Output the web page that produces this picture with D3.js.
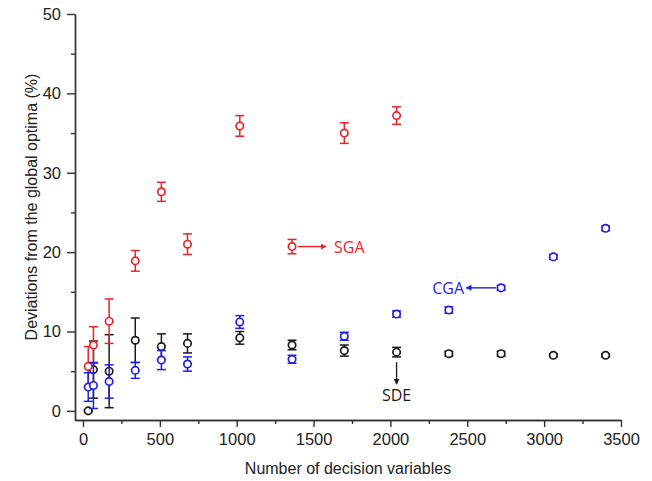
<!DOCTYPE html>
<html lang="en">
<head>
	<meta charset="UTF-8">
	<script src="https://d3js.org/d3.v7.min.js"></script>
	<title>Deviations from the global optima</title>
	<style type="text/css">
		body{ margin: 0; background: #fff; }
		.axis text{ font-family: "Liberation Sans", Arial, sans-serif; font-size: 16.5px; fill: #222; }
		.axis path, .axis line{ stroke: #333; stroke-width: 1.4; }
		.label{ font-family: "Liberation Sans", Arial, sans-serif; font-size: 16px; fill: #222; }
		.note{ font-family: "Open Sans", "Noto Sans", sans-serif; font-size: 16px; }
	</style>
</head>
<body onload="main()">
	<svg width="652" height="481"></svg>
</body>

	<script>
	// decision variables (x) shared by all three series
	var sizes = [34, 68, 170, 340, 510, 680, 1020, 1360, 1700, 2040, 2380, 2720, 3060, 3400];

	var sdeMean = [0.0, 5.2, 5.0, 8.9, 8.1, 8.5, 9.2, 8.3, 7.6, 7.4, 7.2, 7.2, 7.0, 7.0];
	var sdeErr  = [0.1, 3.6, 4.6, 2.8, 1.6, 1.2, 0.8, 0.6, 0.7, 0.6, 0.3, 0.3, 0.2, 0.2];

	var sgaSizes = [34, 68, 170, 340, 510, 680, 1020, 1360, 1700, 2040];
	var sgaMean = [5.6, 8.3, 11.3, 18.9, 27.6, 21.0, 35.9, 20.7, 35.0, 37.2];
	var sgaErr  = [2.5, 2.3, 2.8, 1.3, 1.2, 1.3, 1.3, 0.9, 1.3, 1.1];

	var cgaMean = [3.0, 3.2, 3.7, 5.1, 6.4, 5.9, 11.2, 6.5, 9.4, 12.2, 12.7, 15.5, 19.4, 23.0];
	var cgaErr  = [1.8, 2.9, 2.1, 1.0, 1.2, 0.9, 0.8, 0.5, 0.5, 0.4, 0.4, 0.3, 0.3, 0.3];

	var xTicks = [0, 500, 1000, 1500, 2000, 2500, 3000, 3500];
	var yTicks = [0, 10, 20, 30, 40, 50];

	function main() {
		var svg = d3.select("svg");

		var xScale = d3.scaleLinear().domain([-52, 3500]).range([75, 621]),
		    yScale = d3.scaleLinear().domain([-1.15, 50]).range([420, 14]);

		// minor ticks first, then the labelled ones on top
		svg.append("g")
		   .attr("class", "axis")
		   .attr("transform", "translate(0,420)")
		   .call(d3.axisBottom(xScale).tickValues(d3.range(250, 3500, 500)).tickSize(4).tickFormat("").tickSizeOuter(0));
		svg.append("g")
		   .attr("class", "axis")
		   .attr("transform", "translate(0,420)")
		   .call(d3.axisBottom(xScale).tickValues(xTicks).tickSize(7).tickPadding(6).tickSizeOuter(0).tickFormat(d3.format("d")));

		svg.append("g")
		   .attr("class", "axis")
		   .attr("transform", "translate(75,0)")
		   .call(d3.axisLeft(yScale).tickValues(d3.range(5, 50, 10)).tickSize(4).tickFormat("").tickSizeOuter(0));
		svg.append("g")
		   .attr("class", "axis")
		   .attr("transform", "translate(75,0)")
		   .call(d3.axisLeft(yScale).tickValues(yTicks).tickSize(8).tickPadding(6).tickSizeOuter(0).tickFormat(d3.format("d")));

		svg.append("text")
		   .attr("class", "label")
		   .attr("x", 348)
		   .attr("y", 474)
		   .attr("text-anchor", "middle")
		   .text("Number of decision variables");

		svg.append("text")
		   .attr("class", "label")
		   .attr("transform", "translate(37,207) rotate(-90)")
		   .attr("text-anchor", "middle")
		   .text("Deviations from the global optima (%)");

		function series(xs, mean, err, color) {
			var data = xs.map(function(d, i) { return {n: d, v: mean[i], e: err[i]}; });
			var g = svg.append("g").attr("stroke", color).attr("fill", "none").attr("stroke-width", 1.5);

			var bars = g.selectAll(".eb").data(data).enter().append("g").attr("class", "eb");
			bars.append("line")
			    .attr("x1", function(d) { return xScale(d.n); })
			    .attr("x2", function(d) { return xScale(d.n); })
			    .attr("y1", function(d) { return yScale(d.v + d.e); })
			    .attr("y2", function(d) { return yScale(d.v - d.e); });
			[1, -1].forEach(function(s) {
				bars.append("line")
				    .attr("x1", function(d) { return xScale(d.n) - 4.5; })
				    .attr("x2", function(d) { return xScale(d.n) + 4.5; })
				    .attr("y1", function(d) { return yScale(d.v + s * d.e); })
				    .attr("y2", function(d) { return yScale(d.v + s * d.e); });
			});

			g.selectAll("circle").data(data).enter().append("circle")
			 .attr("cx", function(d) { return xScale(d.n); })
			 .attr("cy", function(d) { return yScale(d.v); })
			 .attr("r", 3.7)
			 .attr("fill", "#fff")
			 .attr("stroke-width", 1.7);
		}

		series(sizes, sdeMean, sdeErr, "#1a1a1a");
		series(sgaSizes, sgaMean, sgaErr, "#e8242b");
		series(sizes, cgaMean, cgaErr, "#1f1fe6");

		// arrow heads
		var defs = svg.append("defs");
		[["r", "#e8242b"], ["b", "#1f1fe6"], ["k", "#1a1a1a"]].forEach(function(m) {
			defs.append("marker")
			    .attr("id", "arr-" + m[0])
			    .attr("viewBox", "0 0 10 10")
			    .attr("refX", 9).attr("refY", 5)
			    .attr("markerWidth", 6).attr("markerHeight", 6)
			    .attr("markerUnits", "userSpaceOnUse")
			    .attr("orient", "auto")
			    .append("path").attr("d", "M0,0 L10,5 L0,10 z").attr("fill", m[1]);
		});

		// SGA note, from the 1360 point
		var sx = xScale(1360), sy = yScale(20.7);
		svg.append("line")
		   .attr("x1", sx + 6).attr("x2", sx + 34).attr("y1", sy).attr("y2", sy)
		   .attr("stroke", "#e8242b").attr("stroke-width", 1.4).attr("marker-end", "url(#arr-r)");
		svg.append("text").attr("class", "note")
		   .attr("x", sx + 42).attr("y", sy + 6)
		   .attr("fill", "#e8242b").text("SGA");

		// CGA note, from the 2720 point
		var cx = xScale(2720), cy = yScale(15.5);
		svg.append("line")
		   .attr("x1", cx - 5).attr("x2", cx - 35).attr("y1", cy).attr("y2", cy)
		   .attr("stroke", "#1f1fe6").attr("stroke-width", 1.4).attr("marker-end", "url(#arr-b)");
		svg.append("text").attr("class", "note")
		   .attr("x", cx - 37).attr("y", cy + 6)
		   .attr("text-anchor", "end")
		   .attr("fill", "#1f1fe6").text("CGA");

		// SDE note, below the 2040 point
		var dx = xScale(2040), dy = yScale(7.4);
		svg.append("line")
		   .attr("x1", dx).attr("x2", dx).attr("y1", dy + 10).attr("y2", dy + 32)
		   .attr("stroke", "#1a1a1a").attr("stroke-width", 1.3).attr("marker-end", "url(#arr-k)");
		svg.append("text").attr("class", "note")
		   .attr("x", dx).attr("y", dy + 49)
		   .attr("text-anchor", "middle")
		   .attr("fill", "#1a1a1a").text("SDE");
	}
	</script>
</html>
